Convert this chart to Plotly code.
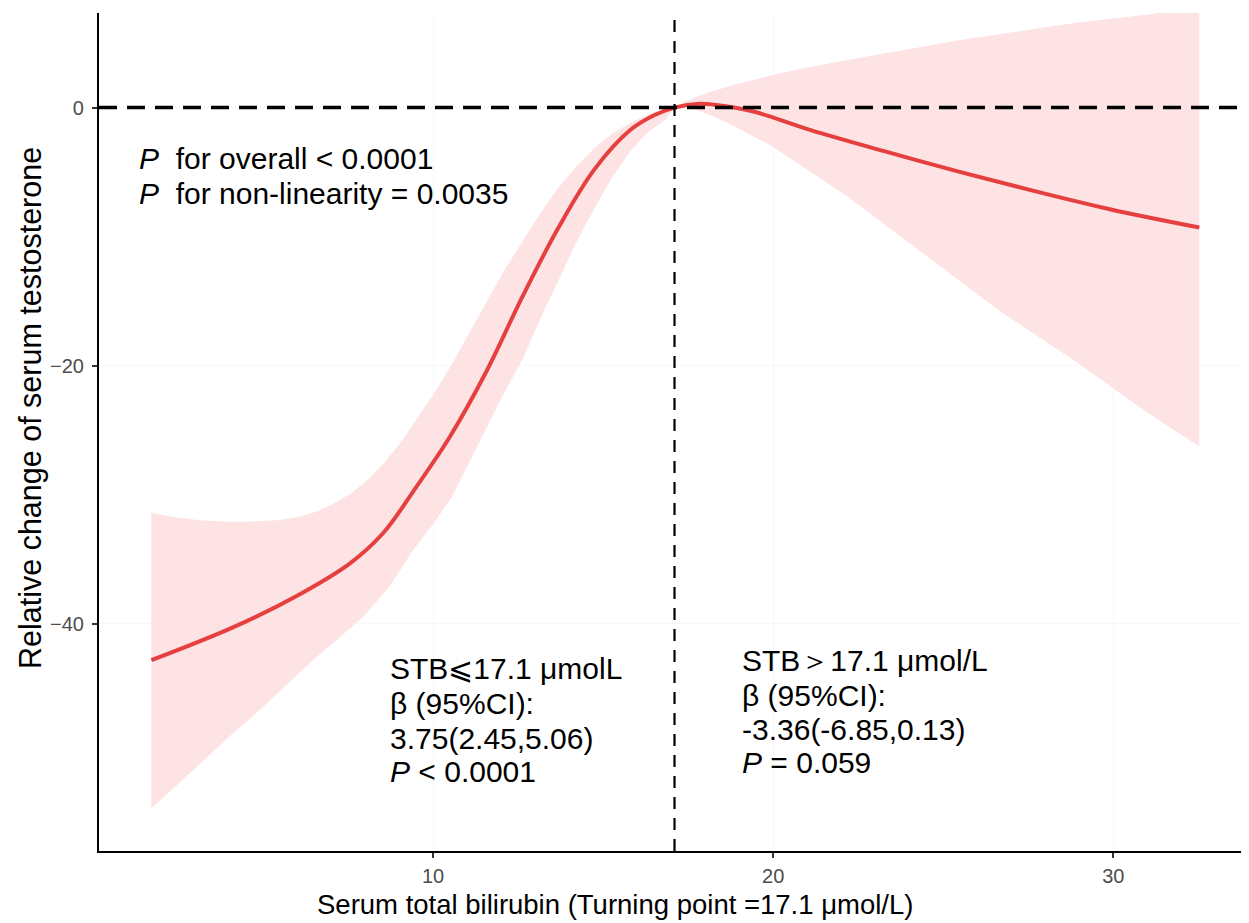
import plotly.graph_objects as go

# ---- data ----
curve_x = [1.72, 4.15, 6.1, 7.55, 8.53, 9.51, 10.5, 11.58, 12.64, 13.69, 14.74, 15.79, 16.5, 17.1,
           17.76, 18.32, 19.42, 21.08, 23.29, 25.51, 27.72, 29.93, 32.53]
curve_y = [-42.84, -40.26, -37.7, -35.35, -33.0, -29.4, -25.5, -20.4, -14.6, -9.3, -4.81, -1.76, -0.6, 0.0,
           0.28, 0.2, -0.31, -1.73, -3.4, -5.0, -6.5, -7.9, -9.3]

ci_upper_x = [1.72, 2.4, 3.15, 3.9, 4.62, 5.4, 6.1, 6.6, 7.08, 7.6, 8.06, 8.55, 9.04, 9.5, 10.02, 10.53, 11.05,
              11.58, 12.1, 12.64, 13.15, 13.69, 14.2, 14.74, 15.25, 15.79, 16.5, 17.1,
              17.4, 17.76, 18.3, 18.87, 19.98, 21.0, 22.19, 25.51, 28.82, 31.48, 32.53]
ci_upper = [-31.4, -31.75, -32.0, -32.1, -32.1, -32.0, -31.7, -31.3, -30.7, -29.9, -28.9, -27.6, -26.0, -24.2,
            -22.2, -20.0, -17.5, -15.05, -12.6, -10.34, -8.2, -6.19, -4.6, -3.15, -2.05, -1.2, -0.35, 0.0,
            0.45, 0.85, 1.35, 1.76, 2.53, 3.1, 3.69, 5.24, 6.54, 7.36, 7.75]

ci_lower_x = [1.72, 3.04, 4.0, 5.0, 5.75, 6.47, 7.2, 7.94, 8.7, 9.41, 10.0, 10.55, 11.0, 11.5, 12.05, 12.64,
              13.15, 13.69, 14.2, 14.74, 15.25, 15.79, 16.3, 16.84, 17.1,
              17.4, 17.76, 18.3, 18.87, 19.98, 22.19, 24.4, 26.61, 28.82, 31.03, 32.53]
ci_lower = [-54.34, -51.12, -48.8, -46.47, -44.6, -42.84, -41.2, -39.49, -37.2, -34.32, -32.3, -30.2, -27.8,
            -25.2, -22.3, -19.48, -16.4, -13.39, -10.5, -7.85, -5.5, -3.42, -1.95, -0.93, 0.0,
            0.05, -0.18, -0.75, -1.47, -3.02, -6.9, -11.29, -15.68, -19.55, -23.69, -26.27]

turning_point = 17.1
x_tick_vals = [10, 20, 30]
y_tick_vals = [0, -20, -40]

x_title = "Serum total bilirubin (Turning point =17.1 μmol/L)"
y_title = "Relative change of serum testosterone"

top_lines = ["<i>P</i>  for overall &lt; 0.0001", "<i>P</i>  for non-linearity = 0.0035"]
left_lines = ["STB⩽17.1 μmolL", "β (95%CI):", "3.75(2.45,5.06)", "<i>P</i> &lt; 0.0001"]
right_lines = ["STB＞17.1 μmol/L", "β (95%CI):", "-3.36(-6.85,0.13)", "<i>P</i> = 0.059"]

# ---- figure ----
FONT = "Liberation Sans, Arial, sans-serif"
RED = "#e5403f"
BAND = "#fde3e3"

fig = go.Figure()

band_x = ci_upper_x + ci_lower_x[::-1]
band_y = ci_upper + ci_lower[::-1]
fig.add_trace(go.Scatter(x=band_x, y=band_y, fill="toself", fillcolor=BAND,
                         line=dict(width=0), mode="lines", hoverinfo="skip", showlegend=False))
fig.add_trace(go.Scatter(x=curve_x, y=curve_y, mode="lines",
                         line=dict(color=RED, width=4, shape="spline", smoothing=1.0),
                         showlegend=False))

# reference lines
fig.add_shape(type="line", xref="paper", yref="y", x0=0, x1=1, y0=0, y1=0,
              line=dict(color="black", width=3.5, dash="18px,10px"), layer="above")
fig.add_shape(type="line", xref="x", yref="paper", x0=turning_point, x1=turning_point, y0=0, y1=1,
              line=dict(color="black", width=2.2, dash="12px,9px"), layer="above")

tf = dict(family=FONT, size=30, color="black")

top_y = [-3.93, -6.64]
for t, yy in zip(top_lines, top_y):
    fig.add_annotation(x=1.29, y=yy, xref="x", yref="y", text=t, showarrow=False,
                       xanchor="left", yanchor="middle", font=tf)

left_y = [-43.5, -46.2, -48.9, -51.5]
for t, yy in zip(left_lines, left_y):
    fig.add_annotation(x=8.67, y=yy, xref="x", yref="y", text=t, showarrow=False,
                       xanchor="left", yanchor="middle", font=tf)

right_y = [-42.85, -45.55, -48.2, -50.8]
for t, yy in zip(right_lines, right_y):
    fig.add_annotation(x=19.02, y=yy, xref="x", yref="y", text=t, showarrow=False,
                       xanchor="left", yanchor="middle", font=tf)

# axis titles
fig.add_annotation(x=-0.06, y=0.5286, xref="paper", yref="paper", text=y_title, textangle=-90,
                   showarrow=False, xanchor="center", yanchor="middle",
                   font=dict(family=FONT, size=30.5, color="black"))
fig.add_annotation(x=0.4487, y=-0.0635, xref="paper", yref="paper", text=x_title,
                   showarrow=False, xanchor="center", yanchor="middle",
                   font=dict(family=FONT, size=27.5, color="black"))

axis_common = dict(showline=True, linecolor="black", linewidth=2.2, ticks="outside",
                   tickcolor="#333333", ticklen=5, tickwidth=1.5, automargin=False,
                   tickfont=dict(family=FONT, size=20, color="#4d4d4d"),
                   zeroline=False, showgrid=True, gridcolor="#f7f7f7", gridwidth=1)

fig.update_xaxes(range=[0.18, 33.99], tickvals=x_tick_vals, ticklabelstandoff=1, **axis_common)
fig.update_yaxes(range=[-57.63, 7.33], tickvals=y_tick_vals, ticklabelstandoff=4, **axis_common)

# page body has an 8px default margin; compensate so the plot lands where the reference has it
fig.update_layout(width=1241, height=915, margin=dict(l=91, r=0, t=5, b=72),
                  plot_bgcolor="white", paper_bgcolor="white", showlegend=False,
                  font=dict(family=FONT))

fig.write_html("out.html", config={"displayModeBar": False})
